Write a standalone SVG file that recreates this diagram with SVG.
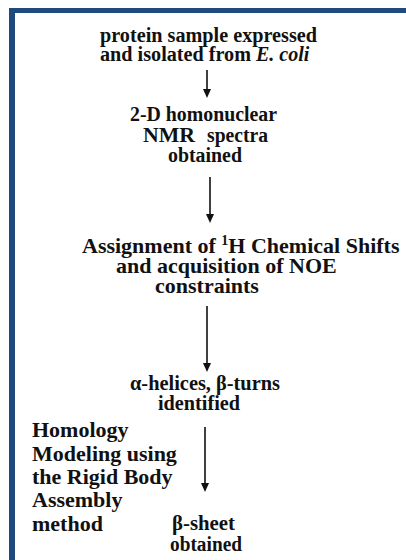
<svg xmlns="http://www.w3.org/2000/svg" width="406" height="560" viewBox="0 0 406 560">
<defs>
<style>
text{font-family:"Liberation Serif","Times New Roman",serif;font-weight:bold;fill:#111;}
.s20{font-size:20px;}
.s22{font-size:22px;}
.it{font-style:italic;}
.conn{stroke:#111;stroke-width:1.6;fill:none;}
.head{fill:#111;}
</style>
</defs>
<rect x="0" y="0" width="406" height="560" fill="#fff"/>
<g id="frame">
<rect x="9" y="8" width="397" height="5" fill="#1F4A7E"/>
<rect x="9" y="8" width="6" height="552" fill="#1F4A7E"/>
</g>
<g id="connectors">
<path class="conn" d="M207,70 V89"/>
<path class="head" d="M203,89 L211,89 L207,98 Z"/>
<path class="conn" d="M210,177 V214"/>
<path class="head" d="M206,214 L214,214 L210,223 Z"/>
<path class="conn" d="M207,306 V363"/>
<path class="head" d="M203,363 L211,363 L207,372 Z"/>
<path class="conn" d="M205,427 V483"/>
<path class="head" d="M201,483 L209,483 L205,492 Z"/>
</g>
<g id="node1">
<text class="s20" x="100" y="42" textLength="217" lengthAdjust="spacingAndGlyphs">protein sample expressed</text>
<text class="s20" x="100" y="61" textLength="151" lengthAdjust="spacingAndGlyphs">and isolated from</text>
<text class="s20 it" x="256" y="61">E. coli</text>
</g>
<g id="node2">
<text class="s20" x="130" y="121" textLength="147" lengthAdjust="spacingAndGlyphs">2-D homonuclear</text>
<text class="s20" x="143" y="142" textLength="52" lengthAdjust="spacingAndGlyphs" style="font-size:21px">NMR</text>
<text class="s20" x="207" y="142" textLength="61" lengthAdjust="spacingAndGlyphs">spectra</text>
<text class="s20" x="168" y="162" textLength="74" lengthAdjust="spacingAndGlyphs">obtained</text>
</g>
<g id="node3">
<text class="s22" x="82" y="253">Assignment of <tspan font-size="14" dy="-8">1</tspan><tspan dy="8">H Chemical Shifts</tspan></text>
<text class="s22" x="116" y="273">and acquisition of NOE</text>
<text class="s22" x="155" y="293">constraints</text>
</g>
<g id="node4">
<text class="s20" x="130" y="390" textLength="150" lengthAdjust="spacingAndGlyphs">α-helices, β-turns</text>
<text class="s20" x="158" y="410" textLength="82" lengthAdjust="spacingAndGlyphs">identified</text>
</g>
<g id="method">
<text class="s22" x="32" y="437">Homology</text>
<text class="s22" x="32" y="461">Modeling using</text>
<text class="s22" x="32" y="484">the Rigid Body</text>
<text class="s22" x="32" y="507">Assembly</text>
<text class="s22" x="32" y="531">method</text>
</g>
<g id="node5">
<text class="s20" x="172" y="530" textLength="63" lengthAdjust="spacingAndGlyphs">β-sheet</text>
<text class="s20" x="170" y="551" textLength="72" lengthAdjust="spacingAndGlyphs">obtained</text>
</g>
</svg>
